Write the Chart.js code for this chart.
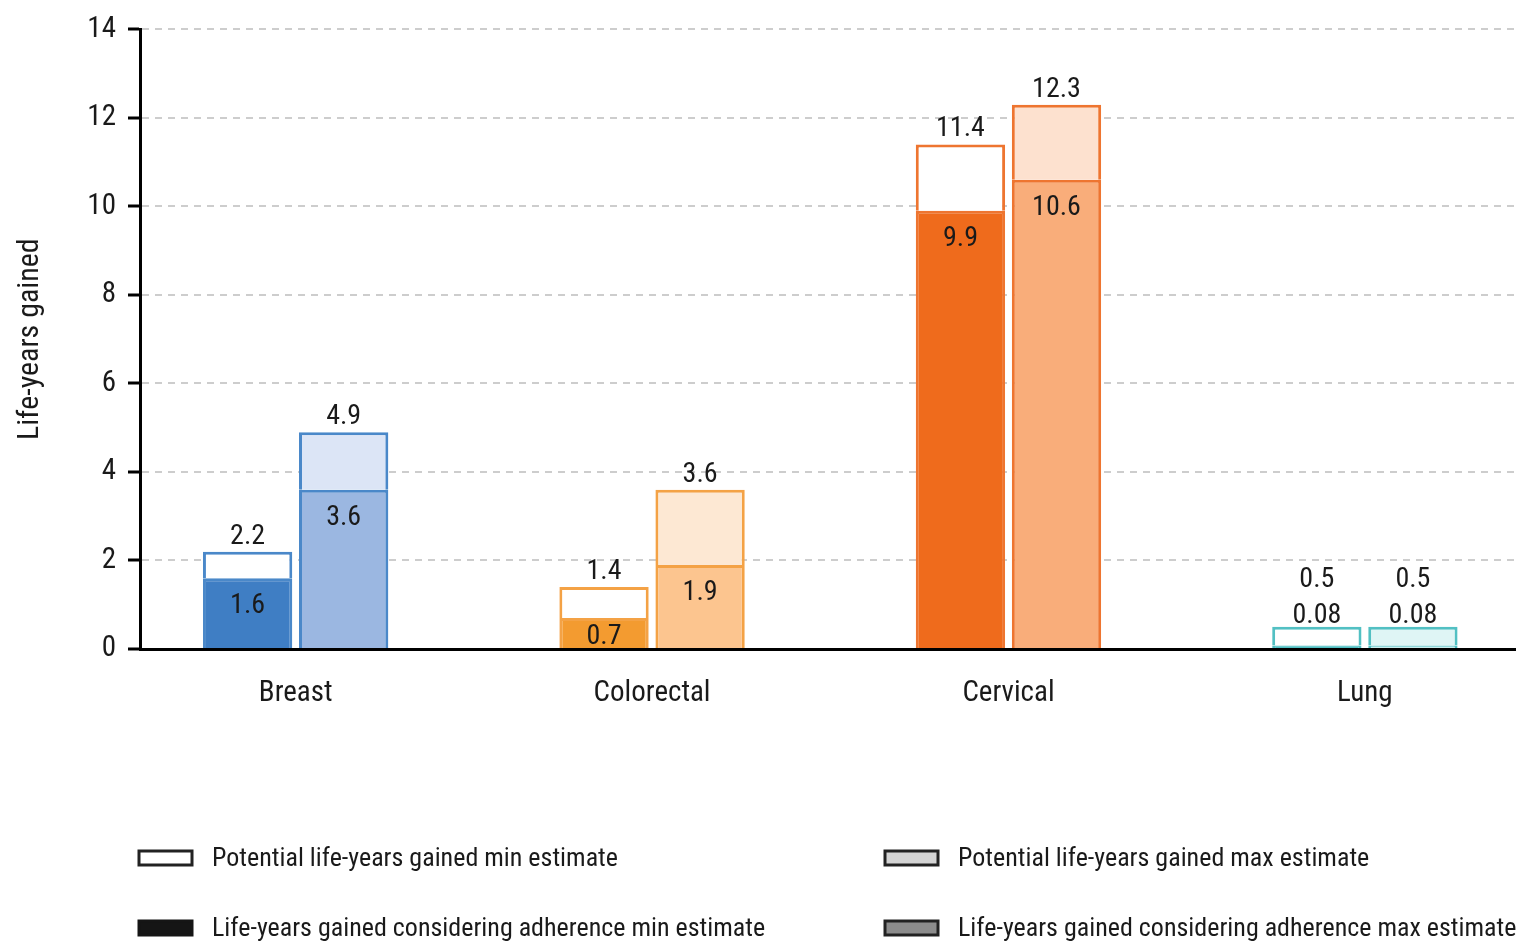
<!DOCTYPE html>
<html><head><meta charset="utf-8">
<script src="https://cdn.jsdelivr.net/npm/chart.js@4"></script>
<style>html,body{margin:0;padding:0;background:#fff;} canvas{display:block;}</style>
</head><body>
<canvas id="c" width="1516" height="943"></canvas>
<script>
const categories = ['Breast', 'Colorectal', 'Cervical', 'Lung'];
const potentialMin = [2.2, 1.4, 11.4, 0.5];
const adherenceMin = [1.6, 0.7, 9.9, 0.08];
const potentialMax = [4.9, 3.6, 12.3, 0.5];
const adherenceMax = [3.6, 1.9, 10.6, 0.08];
const yTickValues = [0, 2, 4, 6, 8, 10, 12, 14];
const legendLabels = [
  'Potential life-years gained min estimate',
  'Potential life-years gained max estimate',
  'Life-years gained considering adherence min estimate',
  'Life-years gained considering adherence max estimate'
];

const FONT = "'Roboto Condensed','Liberation Sans Narrow','DejaVu Sans Condensed',sans-serif";
const TEXT = '#1a1a1a';
const borderCol = ['#4a88c9', '#f4a245', '#ee7530', '#52c0c3'];
const fillAdhMin = ['#3f7ec4', '#f39b30', '#ef6b1c', '#52c0c3'];
const fillPotMin = ['#ffffff', '#ffffff', '#ffffff', '#ffffff'];
const fillAdhMax = ['#9bb7e1', '#fcc58f', '#f9ad7a', '#c9eeee'];
const fillPotMax = ['#dce5f6', '#fde8d3', '#fde1cf', '#dff5f5'];
const legendFill = ['#ffffff', '#d4d4d4', '#151515', '#8c8c8c'];

function pts(arr) { return categories.map((_, i) => ({ x: i, y: arr[i] })); }
function diff(a, b) { return categories.map((_, i) => ({ x: i, y: +(a[i] - b[i]).toFixed(3) })); }

const common = { borderColor: borderCol, borderWidth: 3, categoryPercentage: 0.539, barPercentage: 0.93 };

const valueLabels = {
  id: 'valueLabels',
  afterDatasetsDraw(chart) {
    const ctx = chart.ctx;
    ctx.save();
    ctx.font = '28px ' + FONT;
    ctx.fillStyle = TEXT;
    ctx.textAlign = 'center';
    ctx.textBaseline = 'middle';
    const pairs = [[0, 1, adherenceMin, potentialMin], [2, 3, adherenceMax, potentialMax]];
    pairs.forEach(([a, p, adh, pot]) => {
      const ma = chart.getDatasetMeta(a), mp = chart.getDatasetMeta(p);
      categories.forEach((_, i) => {
        const ea = ma.data[i], ep = mp.data[i];
        const h = ea.base - ea.y;
        if (h < 20) {
          ctx.fillText(String(adh[i]), ea.x, ep.y - 11);
          ctx.fillText(String(pot[i]), ea.x, ep.y - 47);
        } else {
          ctx.fillText(String(pot[i]), ep.x, ep.y - 15);
          ctx.fillText(String(adh[i]), ea.x, ea.y + Math.min(28, h / 2 + 4));
        }
      });
    });
    ctx.restore();
  }
};

const gridLegend = {
  id: 'gridLegend',
  afterDraw(chart) {
    const ctx = chart.ctx, ca = chart.chartArea;
    ctx.save();
    const cols = [ca.left - 1, ca.left + 745];
    const rows = [ca.bottom + 209, ca.bottom + 279];
    ctx.font = '26px ' + FONT;
    ctx.textBaseline = 'middle';
    ctx.textAlign = 'left';
    legendLabels.forEach((t, k) => {
      const x = cols[k % 2], y = rows[Math.floor(k / 2)];
      ctx.fillStyle = legendFill[k];
      ctx.fillRect(x, y - 7, 53, 14);
      ctx.lineWidth = 3;
      ctx.strokeStyle = k === 2 ? '#151515' : '#222';
      ctx.strokeRect(x, y - 7, 53, 14);
      ctx.fillStyle = TEXT;
      ctx.fillText(t, x + 73, y + 1);
    });
    ctx.restore();
  }
};

new Chart(document.getElementById('c'), {
  type: 'bar',
  data: {
    datasets: [
      Object.assign({ label: legendLabels[2], data: pts(adherenceMin), backgroundColor: fillAdhMin, stack: 'min' }, common),
      Object.assign({ label: legendLabels[0], data: diff(potentialMin, adherenceMin), backgroundColor: fillPotMin, stack: 'min' }, common),
      Object.assign({ label: legendLabels[3], data: pts(adherenceMax), backgroundColor: fillAdhMax, stack: 'max' }, common),
      Object.assign({ label: legendLabels[1], data: diff(potentialMax, adherenceMax), backgroundColor: fillPotMax, stack: 'max' }, common)
    ]
  },
  options: {
    responsive: false,
    animation: false,
    devicePixelRatio: 1,
    layout: { padding: { top: 25, right: 0, left: 0, bottom: 214 } },
    plugins: { legend: { display: false }, tooltip: { enabled: false } },
    scales: {
      x: {
        type: 'linear',
        offset: false,
        min: -0.4367,
        max: 3.424,
        afterBuildTicks: s => { s.ticks = categories.map((_, i) => ({ value: i })); },
        afterFit: s => { s.height = 80; },
        grid: { display: false, drawTicks: false, offset: false },
        border: { display: true, color: '#000', width: 3 },
        ticks: {
          autoSkip: false, maxRotation: 0, padding: 27, color: TEXT,
          font: { family: FONT, size: 29 },
          callback: v => categories[v] !== undefined ? categories[v] : ''
        }
      },
      y: {
        stacked: true,
        min: 0,
        max: 14,
        afterBuildTicks: s => { s.ticks = yTickValues.map(v => ({ value: v })); },
        afterFit: s => { s.width = 140; },
        grid: {
          color: '#cdcdcd', lineWidth: 2,
          drawTicks: true, tickLength: 12, tickColor: '#000', tickWidth: 3, tickBorderDash: []
        },
        border: { display: true, color: '#000', width: 3, dash: [7, 6] },
        ticks: { padding: 12, color: TEXT, font: { family: FONT, size: 29 } },
        title: { display: true, text: 'Life-years gained', color: TEXT, padding: { top: 12, bottom: 0 }, font: { family: FONT, size: 30 } }
      }
    }
  },
  plugins: [valueLabels, gridLegend]
});
</script>
</body></html>
